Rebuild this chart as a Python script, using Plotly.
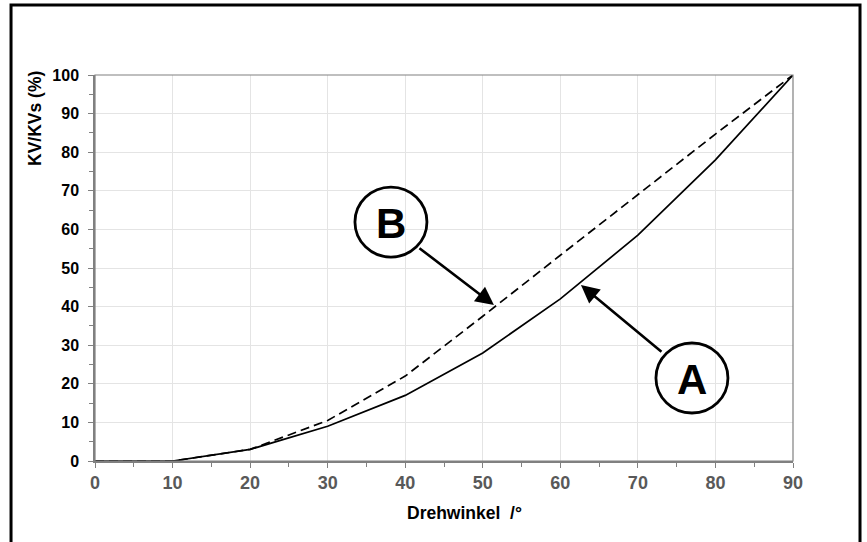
import plotly.graph_objects as go

angle = [0, 10, 20, 30, 40, 50, 60, 70, 80, 90]
curve_a = [0, 0, 3, 9, 17, 28, 42, 58.5, 78, 100]
curve_b = [0, 0, 3, 10.5, 22, 37.5, 53.3, 69, 84.7, 100]
x_ticks = [0, 10, 20, 30, 40, 50, 60, 70, 80, 90]
y_ticks = [0, 10, 20, 30, 40, 50, 60, 70, 80, 90, 100]
y_tick_labels = ["0", "10", "20", "30", "40", "50", "60", "70", "80", "90", "100"]

FONT = "Liberation Sans, Arial, sans-serif"

fig = go.Figure()
fig.add_trace(go.Scatter(x=angle, y=curve_b, mode="lines",
                         line=dict(color="black", width=1.7, dash="9px,5px"),
                         showlegend=False, hoverinfo="skip"))
fig.add_trace(go.Scatter(x=angle, y=curve_a, mode="lines",
                         line=dict(color="black", width=1.7),
                         showlegend=False, hoverinfo="skip"))

fig.update_layout(
    width=867, height=542,
    margin=dict(l=95, r=74, t=75, b=81),
    paper_bgcolor="white", plot_bgcolor="white",
    font=dict(family=FONT),
    xaxis=dict(range=[0, 90], tickvals=x_ticks, showgrid=True, gridcolor="#e4e4e4",
               gridwidth=1, showline=True, linecolor="#808080", linewidth=1.5,
               ticks="outside", ticklen=5, tickcolor="#808080", tickwidth=1,
               minor=dict(dtick=5, ticks="outside", ticklen=4, tickcolor="#808080", showgrid=False),
               tickfont=dict(size=18, color="#595959", family=FONT, weight="bold"),
               mirror=False, zeroline=False, fixedrange=True),
    yaxis=dict(range=[0, 100], tickvals=y_ticks, ticktext=y_tick_labels,
               showgrid=True, gridcolor="#e4e4e4",
               gridwidth=1, showline=True, linecolor="#808080", linewidth=1.5,
               ticks="outside", ticklen=5, tickcolor="#808080", tickwidth=1,
               minor=dict(dtick=5, ticks="outside", ticklen=4, tickcolor="#808080", showgrid=False),
               tickfont=dict(size=16, color="black", family=FONT, weight="bold"),
               ticklabelstandoff=6,
               zeroline=False, fixedrange=True),
)

# right / top frame of plot area
fig.add_shape(type="rect", xref="paper", yref="paper", x0=0, y0=0, x1=1, y1=1,
              line=dict(color="#808080", width=1.2), layer="above")

# outer border
fig.add_shape(type="rect", xref="paper", yref="paper",
              x0=-0.1203, x1=1.0960, y0=-0.23, y1=1.1815,
              line=dict(color="black", width=3))

# axis titles
fig.add_annotation(text="Drehwinkel&nbsp;&nbsp;/°", xref="paper", yref="paper",
                   x=(464 - 95) / 698, y=(461 - 513) / 386, showarrow=False,
                   xanchor="center", yanchor="middle",
                   font=dict(size=17.5, color="black", family=FONT, weight="bold"))
fig.add_annotation(text="KV/KVs (%)", xref="paper", yref="paper",
                   x=(35 - 95) / 698, y=(461 - 119) / 386, showarrow=False, textangle=-90,
                   xanchor="center", yanchor="middle",
                   font=dict(size=17.5, color="black", family=FONT, weight="bold"))

# circles with letters
for cx, cy, letter in [(38.16, 61.9, "B"), (76.97, 21.5, "A")]:
    fig.add_shape(type="circle", xref="x", yref="y", xsizemode="pixel", ysizemode="pixel",
                  xanchor=cx, yanchor=cy, x0=-36, x1=36, y0=-35, y1=35,
                  line=dict(color="black", width=2.8), fillcolor="rgba(0,0,0,0)")
    fig.add_annotation(text=letter, x=cx, y=cy, xref="x", yref="y", showarrow=False,
                       font=dict(size=42, color="black", family=FONT, weight="bold"),
                       yshift=-1)

# arrows
fig.add_annotation(x=51.44, y=40.4, xref="x", yref="y", ax=-76, ay=-58, text="",
                   showarrow=True, arrowhead=2, arrowsize=1.4, arrowwidth=2.6,
                   arrowcolor="black")
fig.add_annotation(x=62.66, y=45.6, xref="x", yref="y", ax=82, ay=68, text="",
                   showarrow=True, arrowhead=2, arrowsize=1.4, arrowwidth=2.6,
                   arrowcolor="black")

fig.write_html("out.html", config={"displayModeBar": False},
               post_script="document.body.style.margin='0';")
